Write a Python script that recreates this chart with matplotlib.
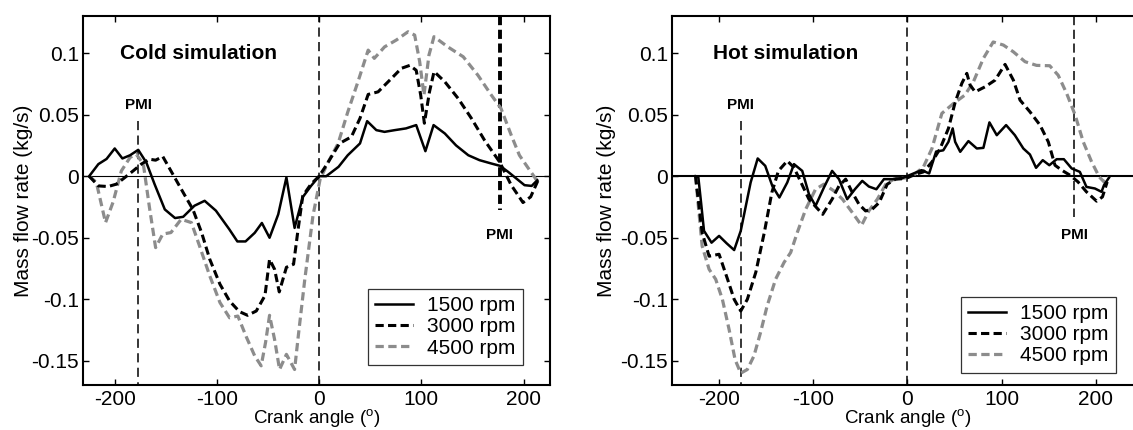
import matplotlib
matplotlib.use("Agg")
import matplotlib.pyplot as plt

plt.rcParams["font.family"] = ["Liberation Sans", "DejaVu Sans"]
plt.rcParams["mathtext.fontset"] = "custom"
plt.rcParams["mathtext.rm"] = "Liberation Sans"
plt.rcParams["axes.unicode_minus"] = False

# cold simulation
cold_1500_x = [-225, -216, -208, -200, -192.5, -185, -177, -169, -161, -151, -141, -133, -122, -112, -101, -88, -80, -72, -63, -56,
               -48.5, -40, -32, -24, -16, -8, 0, 7, 19, 28, 40, 47, 56, 64, 74, 85, 95, 104, 112, 123,
               134, 146, 157, 168.5, 177, 185, 193, 201, 208, 213.5]
cold_1500_y = [0, 0.0098, 0.014, 0.0225, 0.0144, 0.017, 0.0214, 0.011, -0.0065, -0.027, -0.034, -0.033, -0.024, -0.020, -0.028, -0.043, -0.053, -0.053, -0.046, -0.038,
               -0.050, -0.031, -0.001, -0.042, -0.017, -0.008, 0, 0, 0.0076, 0.017, 0.0266, 0.0447, 0.0374, 0.036, 0.0374, 0.0388, 0.0415, 0.0203, 0.0415, 0.0347,
               0.025, 0.017, 0.013, 0.0103, 0.0084, 0.0035, -0.0019, -0.0073, -0.0079, -0.0033]
cold_3000_x = [-225, -216, -206.5, -198.5, -190, -182, -174, -166, -160, -153, -145, -133, -123.5, -115, -107, -97, -87.6, -78, -70, -61.5,
               -53, -48.5, -43.6, -39, -32, -25, -21, -16, -8, 0, 7, 20, 31.6, 40, 48, 57.7, 70.8, 80.5, 88.7, 95,
               99.4, 103, 108, 112.5, 123, 136, 149, 162, 176.6, 188, 199.5, 207, 214]
cold_3000_y = [0, -0.0079, -0.0084, -0.0065, -0.001, 0.0043, 0.0098, 0.0138, 0.013, 0.016, 0.0043, -0.0133, -0.027, -0.0458, -0.0675, -0.0878, -0.1014, -0.110, -0.113, -0.1095,
               -0.097, -0.0675, -0.0756, -0.094, -0.074, -0.0715, -0.0458, -0.016, -0.0065, 0, 0.0089, 0.0266, 0.032, 0.047, 0.0664, 0.0685, 0.0794, 0.0876, 0.090, 0.086,
               0.0659, 0.043, 0.0685, 0.085, 0.0767, 0.0632, 0.047, 0.029, 0.0116, -0.0073, -0.0214, -0.0168, -0.0038]
cold_4500_x = [-225, -218, -209, -201.6, -193.5, -185, -179, -172, -166, -160, -153, -145, -135, -125, -117, -107, -97, -87.6, -79.5, -71,
               -63, -56.7, -52.4, -48.5, -43.6, -38.7, -32, -24, -20, -14, -6, 1, 9, 18.6, 28, 38, 48, 54, 64, 75.6,
               87, 93.5, 98.4, 102.6, 107.5, 112.4, 126, 141, 155.4, 168.5, 178, 188, 196, 206, 214]
cold_4500_y = [0, -0.005, -0.0377, -0.021, 0.0043, 0.0152, 0.0179, 0.0098, -0.0255, -0.058, -0.047, -0.0458, -0.035, -0.0377, -0.0567, -0.081, -0.1027, -0.115, -0.1136, -0.131,
               -0.146, -0.154, -0.135, -0.113, -0.1325, -0.157, -0.1447, -0.157, -0.127, -0.0837, -0.032, -0.0024, 0.0116, 0.0266, 0.052, 0.0767, 0.1024, 0.0957, 0.105, 0.1106,
               0.1173, 0.1146, 0.093, 0.0659, 0.0984, 0.1133, 0.105, 0.097, 0.082, 0.0659, 0.055, 0.0333, 0.017, 0.0049, -0.0046]

# hot simulation
hot_1500_x = [-225, -222, -219.5, -216, -208, -200, -192, -184, -177, -166.5, -159, -151, -143.5, -136, -127.6, -120.5, -111.7, -104.6, -97.6, -88.7,
              -80, -72.7, -64, -55.8, -48, -41, -33, -25, -16, -5.6, 6.4, 15, 23, 30.4, 38, 43.5, 48, 50.6, 56, 64.7,
              73.6, 80.6, 87, 94.8, 104.7, 114, 123, 130, 136.5, 143.6, 150.6, 158.4, 166, 174.3, 183, 190, 199, 206, 208.6, 214]
hot_1500_y = [0, -0.001, -0.0187, -0.0444, -0.054, -0.0485, -0.0545, -0.060, -0.0444, -0.0051, 0.0144, 0.0084, -0.0079, -0.0173, -0.0051, 0.0098, 0.0043, -0.0146, -0.0241, -0.0092,
              0.0043, -0.0024, -0.0187, -0.0106, -0.0038, -0.0084, -0.0106, -0.0024, -0.0024, -0.0016, 0.0022, 0.0049, 0.0022, 0.020, 0.021, 0.0279, 0.0388, 0.0279, 0.0198, 0.0285,
              0.0225, 0.023, 0.0437, 0.0333, 0.0415, 0.0333, 0.0225, 0.0176, 0.0068, 0.013, 0.0089, 0.0138, 0.0138, 0.0063, 0.0035, -0.0087, -0.01, -0.0127, -0.0073, -0.0011]
hot_3000_x = [-225, -218, -210.6, -200, -191, -184, -177, -170, -161, -152, -144, -137, -127.6, -120.5, -104.6, -90, -80, -72.7, -65.6, -58.5,
              -51.5, -44.5, -37.4, -30, -21.5, -12.7, -2, 8, 17, 26, 34.7, 43.5, 50.6, 57.7, 63, 66.5, 71.8, 82.4, 93, 103.6,
              112.4, 119.5, 130, 140.7, 149.5, 156.6, 163.7, 172.5, 181, 190, 200.8, 207, 212]
hot_3000_y = [0, -0.0458, -0.065, -0.0634, -0.0837, -0.100, -0.1095, -0.100, -0.078, -0.0458, -0.0133, 0.0043, 0.0124, 0.007, -0.0187, -0.031, -0.0187, -0.0079, -0.0024, -0.0133,
              -0.0228, -0.0282, -0.0268, -0.0214, -0.0065, -0.0024, -0.0019, 0.0014, 0.0035, 0.0116, 0.0225, 0.0388, 0.060, 0.0754, 0.0835, 0.074, 0.0685, 0.0726, 0.078, 0.0908,
              0.078, 0.0618, 0.0523, 0.0415, 0.0279, 0.0089, 0.0049, 0.0008, -0.0046, -0.0127, -0.0203, -0.0168, -0.0046]
hot_4500_x = [-225, -218, -210.6, -203.6, -196.5, -189.4, -183, -177, -170, -163, -156, -149, -140, -131, -124, -117, -108, -97.6, -88.7, -78,
              -69, -58.6, -48.8, -41, -32, -23, -14.4, -2, 6.4, 17, 26, 36.5, 48.8, 61, 70, 80.6, 91, 101.8, 112.4, 124.8,
              137, 151, 160, 169, 178, 186.6, 195.5, 203.6, 208.6, 214]
hot_4500_y = [0, -0.0567, -0.0756, -0.0837, -0.100, -0.1244, -0.149, -0.160, -0.157, -0.146, -0.127, -0.1054, -0.0837, -0.070, -0.062, -0.0458, -0.0268, -0.0106, -0.0065, -0.012,
              -0.0187, -0.0295, -0.040, -0.0282, -0.0187, -0.0065, -0.0024, -0.0014, 0.0008, 0.0076, 0.0225, 0.051, 0.059, 0.0659, 0.0767, 0.0957, 0.109, 0.1065, 0.101, 0.093,
              0.090, 0.0897, 0.082, 0.0672, 0.0496, 0.0279, 0.0116, -0.0006, -0.0046, -0.0006]

labels = ["1500 rpm", "3000 rpm", "4500 rpm"]
y_ticks = [-0.15, -0.1, -0.05, 0, 0.05, 0.1]
y_tick_labels = ["-0.15", "-0.1", "-0.05", "0", "0.05", "0.1"]
x_ticks = [-200, -100, 0, 100, 200]
pmi = 177

gray = "#8c8c8c"

fig = plt.figure(figsize=(11.33, 4.30), dpi=100)
ax1 = fig.add_axes([0.0733, 0.1035, 0.4122, 0.859])
ax2 = fig.add_axes([0.5931, 0.1035, 0.4157, 0.859])


def draw(ax, data, title, xlim, right_lw, right_top, title_x, leg_anchor, zero_lw):
    (x1, y1), (x2, y2), (x3, y3) = data
    l1, = ax.plot(x1, y1, "-", color="k", lw=1.8, zorder=5)
    l2, = ax.plot(x2, y2, color="k", lw=2.2, ls=(0, (2.7, 1.4)), zorder=4)
    l3, = ax.plot(x3, y3, color=gray, lw=2.3, ls=(0, (2.6, 1.4)), zorder=3)
    ax.axhline(0, color="k", lw=zero_lw, zorder=2)
    ax.axvline(0, color="k", lw=1.1, ls=(0, (6, 3.5)), zorder=2)
    ax.plot([-pmi, -pmi], [0.045, -0.17], color="k", lw=1.1, ls=(0, (6, 3.5)), zorder=2)
    ax.plot([pmi, pmi], [0.13, right_top], color="k", lw=right_lw, ls=(0, (6 / right_lw * 1.1, 3 / right_lw * 1.1)), zorder=2)
    ax.text(-pmi, 0.058, "PMI", ha="center", va="center", fontsize=11, fontweight="bold")
    ax.text(pmi, -0.048, "PMI", ha="center", va="center", fontsize=11, fontweight="bold")
    ax.text(title_x, 0.90, title, transform=ax.transAxes, ha="left", va="center", fontsize=15, fontweight="bold")
    ax.set_xlim(xlim)
    ax.set_ylim(-0.17, 0.13)
    ax.set_xticks(x_ticks)
    ax.set_yticks(y_ticks)
    ax.set_yticklabels(y_tick_labels)
    ax.tick_params(direction="in", length=4, width=1, labelsize=15, top=True, right=True, pad=3)
    for s in ax.spines.values():
        s.set_linewidth(1.5)
    ax.set_xlabel("Crank angle ($^{\\mathrm{o}}$)", fontsize=13.5)
    ax.set_ylabel("Mass flow rate (kg/s)", fontsize=15)
    leg = ax.legend([l1, l2, l3], labels, loc="upper left", bbox_to_anchor=leg_anchor, fontsize=15,
                    fancybox=False, framealpha=1, edgecolor="0.2", handlelength=1.8, handletextpad=0.7,
                    labelspacing=0.1, borderpad=0.35, borderaxespad=0)
    leg.get_frame().set_linewidth(0.9)
    leg.set_zorder(10)


draw(ax1, [(cold_1500_x, cold_1500_y), (cold_3000_x, cold_3000_y), (cold_4500_x, cold_4500_y)],
     "Cold simulation", (-231, 226), 2.8, -0.0276, 0.079, (0.61, 0.261), 0.8)
draw(ax2, [(hot_1500_x, hot_1500_y), (hot_3000_x, hot_3000_y), (hot_4500_x, hot_4500_y)],
     "Hot simulation", (-250, 250), 1.1, -0.033, 0.0864, (0.6136, 0.2395), 1.5)

ax1.yaxis.set_label_coords(-0.107, 0.5)
ax2.yaxis.set_label_coords(-0.119, 0.5)
ax1.xaxis.set_label_coords(0.5, -0.059)
ax2.xaxis.set_label_coords(0.5, -0.059)

fig.savefig("out.png", dpi=100)
